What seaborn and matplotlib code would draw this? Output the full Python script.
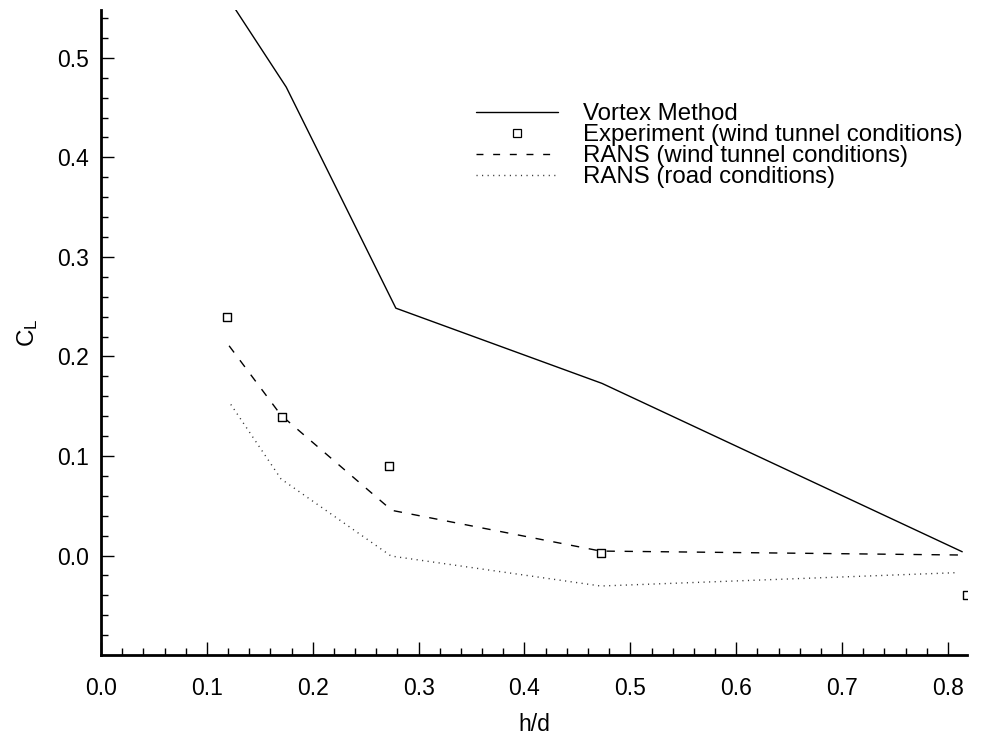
import numpy as np
import pandas as pd
import matplotlib
matplotlib.use("Agg")
import matplotlib.pyplot as plt
from matplotlib.ticker import MultipleLocator, FormatStrFormatter
from matplotlib.lines import Line2D
import seaborn as sns

# ---- data ----
vortex_x = [0.120, 0.175, 0.2785, 0.4733, 0.8135]
vortex_y = [0.560, 0.4705, 0.2485, 0.1729, 0.0038]

exp_x = [0.1194, 0.1708, 0.2719, 0.4720, 0.8176]
exp_y = [0.2398, 0.1394, 0.0899, 0.0025, -0.0400]

rans_wt_x = [0.1210, 0.1700, 0.2747, 0.4720, 0.8150]
rans_wt_y = [0.2107, 0.1410, 0.0454, 0.0045, 0.0005]

rans_road_x = [0.1226, 0.1700, 0.2740, 0.4720, 0.8080]
rans_road_y = [0.1518, 0.0770, -0.0005, -0.0306, -0.0172]

labels = ["Vortex Method",
          "Experiment (wind tunnel conditions)",
          "RANS (wind tunnel conditions)",
          "RANS (road conditions)"]

sns.set_theme(style="white")
plt.rcParams['font.family'] = ['Liberation Sans', 'DejaVu Sans']
plt.rcParams['mathtext.fontset'] = 'custom'
plt.rcParams['mathtext.rm'] = 'Liberation Sans'
plt.rcParams['mathtext.it'] = 'Liberation Sans'

FS = 16.5
LFS = 17.3

fig = plt.figure(figsize=(9.91, 7.36), dpi=100)
ax = fig.add_axes([101/991, 1-655/736, (967-101)/991, (655-10)/736])

lw = 1.0
sns.lineplot(x=vortex_x, y=vortex_y, ax=ax, color='black', lw=lw,
             sort=False, estimator=None)
sns.lineplot(x=rans_wt_x, y=rans_wt_y, ax=ax, color='black', lw=lw,
             sort=False, estimator=None)
sns.lineplot(x=rans_road_x, y=rans_road_y, ax=ax, color='black', lw=lw,
             sort=False, estimator=None)
lines = ax.get_lines()
lines[1].set_dashes((6, 7))
lines[2].set_dashes((0.8, 3.2))
lines[2].set_color('#333333')
sns.scatterplot(x=exp_x, y=exp_y, ax=ax, marker='s', s=36,
                facecolor='white', edgecolor='black', linewidth=1.0, zorder=5)

ax.set_xlim(0.0, 0.818)
ax.set_ylim(-0.0999, 0.548)

ax.xaxis.set_major_locator(MultipleLocator(0.1))
ax.xaxis.set_minor_locator(MultipleLocator(0.02))
ax.yaxis.set_major_locator(MultipleLocator(0.1))
ax.yaxis.set_minor_locator(MultipleLocator(0.02))
ax.xaxis.set_major_formatter(FormatStrFormatter('%.1f'))
ax.yaxis.set_major_formatter(FormatStrFormatter('%.1f'))

ax.tick_params(axis='both', which='major', direction='in', length=9.5,
               width=1.0, color='black', labelsize=FS, labelcolor='black')
ax.tick_params(axis='both', which='minor', direction='in', length=5,
               width=1.0, color='black')
ax.tick_params(axis='x', which='major', pad=16)
ax.tick_params(axis='y', which='major', pad=9)
ax.tick_params(bottom=True, left=True, which='both')

for s in ['top', 'right']:
    ax.spines[s].set_visible(False)
for s in ['left', 'bottom']:
    ax.spines[s].set_color('black')
    ax.spines[s].set_linewidth(2.0)

ax.set_xlabel('h/d', fontsize=FS, color='black', labelpad=9)
ax.set_ylabel(r'$\mathregular{C_L}$', fontsize=FS + 1, color='black', labelpad=12)

handles = [
    Line2D([], [], color='black', lw=lw),
    Line2D([], [], color='black', lw=0, marker='s', markersize=5.5,
           markerfacecolor='white', markeredgecolor='black', markeredgewidth=0.9),
    Line2D([], [], color='black', lw=lw, dashes=(5, 7)),
    Line2D([], [], color='#333333', lw=lw, dashes=(0.8, 3.2)),
]
leg = ax.legend(handles, labels, loc='upper left',
                bbox_to_anchor=((476-101)/866, (655-103)/645),
                frameon=False, fontsize=LFS, handlelength=3.4, handletextpad=1.05,
                labelspacing=-0.04, borderpad=0, borderaxespad=0)
for t in leg.get_texts():
    t.set_color('black')

fig.savefig('out.png', dpi=100)
